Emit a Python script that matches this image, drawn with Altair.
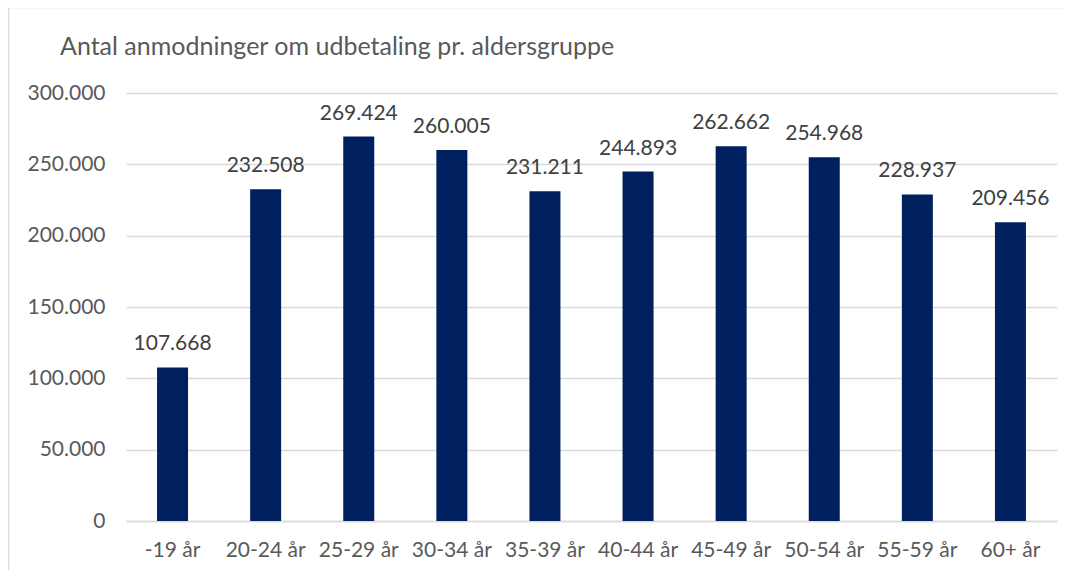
import altair as alt
import pandas as pd

categories = ["-19 år", "20-24 år", "25-29 år", "30-34 år", "35-39 år",
              "40-44 år", "45-49 år", "50-54 år", "55-59 år", "60+ år"]
values = [107668, 232508, 269424, 260005, 231211,
          244893, 262662, 254968, 228937, 209456]
title_text = "Antal anmodninger om udbetaling pr. aldersgruppe"
y_ticks = [0, 50000, 100000, 150000, 200000, 250000, 300000]

df = pd.DataFrame({"cat": categories, "val": values})

FONT = "Lato"
W, H = 931, 428

xenc = alt.X("cat:N", sort=categories, title=None,
             scale=alt.Scale(paddingInner=0.667, paddingOuter=0.3335),
             axis=alt.Axis(labelAngle=0, labelFont=FONT, labelFontSize=21,
                           labelColor="#595959", labelPadding=18, ticks=False,
                           domain=True, domainColor="#d9d9d9", domainWidth=1.5,
                           grid=False))
yenc = alt.Y("val:Q", title=None,
             scale=alt.Scale(domain=[0, 300000], nice=False),
             axis=alt.Axis(values=y_ticks, format=",d", labelFont=FONT,
                           labelFontSize=21, labelColor="#595959",
                           labelPadding=21, ticks=False, domain=False,
                           grid=True, gridColor="#d9d9d9", gridWidth=1.3))

base = alt.Chart(df)
bars = base.mark_bar(color="#002060").encode(x=xenc, y=yenc)
labels = base.mark_text(font=FONT, fontSize=21, color="#404040",
                        baseline="alphabetic", dy=-17).encode(
    x=alt.X("cat:N", sort=categories),
    y=alt.Y("val:Q"),
    text=alt.Text("val:Q", format=",d"),
)

one = alt.Data(values=[{"t": title_text}])
border = alt.Chart(one).mark_rect(
    fill="transparent", stroke="#d9d9d9", strokeWidth=1.5).encode(
    x=alt.value(-117.5), x2=alt.value(2000),
    y=alt.value(-85.5), y2=alt.value(2000))
title = alt.Chart(one).mark_text(
    font=FONT, fontSize=25, color="#595959", align="left",
    baseline="middle").encode(
    x=alt.value(-66), y=alt.value(-46), text="t:N")

chart = alt.layer(border, title, bars, labels).properties(
    width=W, height=H,
    autosize=alt.AutoSizeParams(type="none"),
    padding={"left": 118, "top": 85, "right": 9, "bottom": 49},
).configure(
    view=alt.ViewConfig(stroke=None),
    locale=alt.Locale(number=alt.NumberLocale(decimal=",", thousands=".",
                                              grouping=[3], currency=["", " kr."]))
)

chart.save("out.html", embed_options={"renderer": "svg", "actions": False})
